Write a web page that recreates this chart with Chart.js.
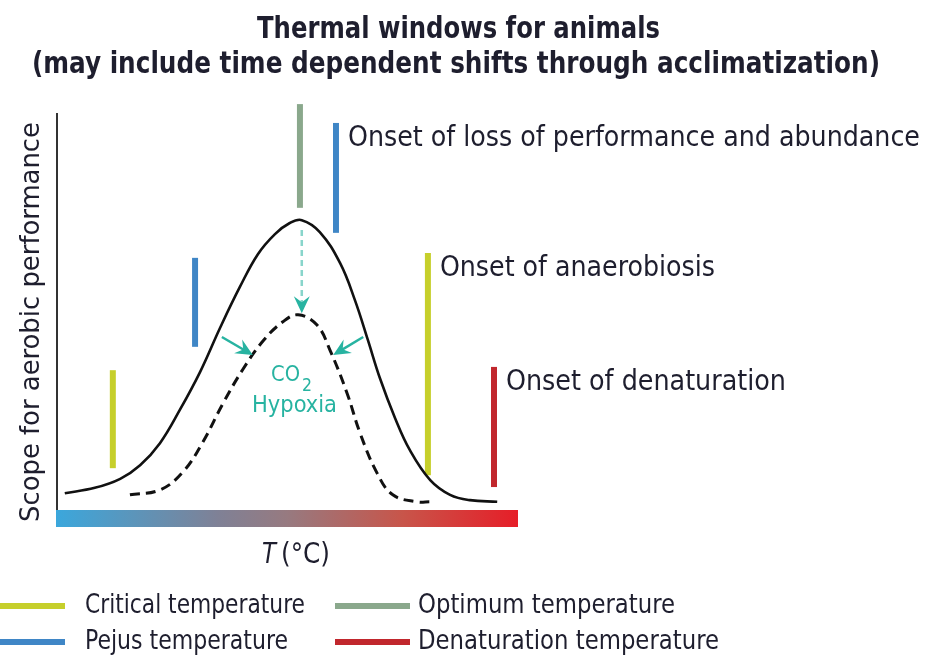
<!DOCTYPE html>
<html>
<head>
<meta charset="utf-8">
<title>Thermal windows for animals</title>
<script src="https://cdn.jsdelivr.net/npm/chart.js@4.4.1/dist/chart.umd.min.js"></script>
<style>
  html, body { margin: 0; padding: 0; background: #fff; }
  canvas { display: block; }
</style>
</head>
<body>
<canvas id="thermal" width="929" height="658"></canvas>
<script>
// --- data (temperature and scope on an arbitrary 0-100 scale) ---
const normalTemp  = [1.9, 8.4, 13.9, 18.2, 22.5, 26.8, 31.2, 35.5, 39.8, 43.7, 47.4, 50.6, 53.2,
                     57.1, 61.5, 64.7, 67.5, 70.1, 73.4, 76.6, 81.0, 85.3, 89.6, 95.5];
const normalScope = [4.1, 5.4, 7.6, 10.9, 16.3, 24.4, 33.7, 44.4, 54.4, 62.4, 67.3, 70.0, 70.7,
                     67.8, 60.2, 51.2, 41.5, 32.2, 22.4, 14.6, 7.3, 3.7, 2.4, 2.0];

const stressTemp  = [16.0, 22.5, 27.5, 31.8, 36.1, 40.5, 44.8, 49.1, 52.4, 56.5, 59.3, 63.0, 65.8, 69.5, 72.9, 78.1, 81.0];
const stressScope = [3.7, 4.9, 9.3, 16.6, 25.9, 34.4, 41.2, 45.9, 47.6, 45.1, 39.0, 28.5, 18.8, 9.0, 3.7, 2.0, 2.0];

// threshold markers: kind index, temperature, bottom and top of the bar
const markerKind = [0, 0, 1, 1, 2, 3];
const markerTemp = [12.3, 80.5, 30.1, 60.6, 52.8, 94.8];
const markerLow  = [10.2, 8.5, 39.8, 67.6, 73.7, 5.6];
const markerHigh = [34.1, 62.7, 61.5, 94.4, 99.0, 34.9];

const kindNames = ['Critical temperature', 'Pejus temperature', 'Optimum temperature', 'Denaturation temperature'];

// onset labels attached to a marker (index into the marker arrays)
const onsetMarker = [3, 1, 5];
const onsetText   = ['Onset of loss of performance and abundance', 'Onset of anaerobiosis', 'Onset of denaturation'];

// CO2 / hypoxia arrows: [x0, y0, x1, y1]
const shiftArrows = [
    [53.2, 68.3, 53.2, 48.0],
    [35.9, 42.2, 42.6, 37.8],
    [66.5, 42.2, 60.0, 37.8]
];

// --- styles ---
const FONT = "'Liberation Sans Narrow', 'DejaVu Sans Condensed', 'Roboto', sans-serif";
const TEXT_COLOR = '#1e1e2e';
const TEAL = '#27b3a1';
const kindColors = ['#c6cf2b', '#3f86c6', '#8aa88c', '#c1272d'];

// draw a text squeezed/stretched to a given width
function fitText(ctx, text, x, y, width, size, weight) {
    ctx.font = weight + ' ' + size + 'px ' + FONT;
    const w = ctx.measureText(text).width;
    ctx.save();
    ctx.translate(x, y);
    ctx.scale(width / w, 1);
    ctx.textAlign = 'left';
    ctx.textBaseline = 'alphabetic';
    ctx.fillText(text, 0, 0);
    ctx.restore();
}

function arrowHead(ctx, x0, y0, x1, y1, len, half) {
    const a = Math.atan2(y1 - y0, x1 - x0);
    const c = Math.cos(a), s = Math.sin(a);
    const bx = x1 - c * len, by = y1 - s * len;
    const nx = x1 - c * len * 0.65, ny = y1 - s * len * 0.65;
    ctx.beginPath();
    ctx.moveTo(x1, y1);
    ctx.lineTo(bx - s * half, by + c * half);
    ctx.lineTo(nx, ny);
    ctx.lineTo(bx + s * half, by - c * half);
    ctx.closePath();
    ctx.fill();
}

const decorations = {
    id: 'decorations',
    beforeDatasetsDraw(chart) {
        const { ctx, chartArea } = chart;
        ctx.save();
        // temperature gradient bar
        const g = ctx.createLinearGradient(chartArea.left, 0, chartArea.right, 0);
        g.addColorStop(0, '#3ba7dc');
        g.addColorStop(0.35, '#7f8196');
        g.addColorStop(0.5, '#977a80');
        g.addColorStop(0.75, '#c8554a');
        g.addColorStop(1, '#e61e28');
        ctx.fillStyle = g;
        ctx.fillRect(chartArea.left, chartArea.bottom, chartArea.right - chartArea.left, 17);
        // y axis line
        ctx.strokeStyle = '#333';
        ctx.lineWidth = 2;
        ctx.beginPath();
        ctx.moveTo(chartArea.left + 1, chartArea.top + 13);
        ctx.lineTo(chartArea.left + 1, chartArea.bottom);
        ctx.stroke();
        ctx.restore();
    },
    afterDatasetsDraw(chart) {
        const { ctx } = chart;
        const xs = chart.scales.x, ys = chart.scales.y;
        ctx.save();

        // shift arrows
        ctx.fillStyle = TEAL;
        shiftArrows.forEach((a, i) => {
            const x0 = xs.getPixelForValue(a[0]), y0 = ys.getPixelForValue(a[1]);
            const x1 = xs.getPixelForValue(a[2]), y1 = ys.getPixelForValue(a[3]);
            ctx.lineWidth = 2.5;
            if (i === 0) {
                ctx.strokeStyle = 'rgba(39, 179, 161, 0.55)';
                ctx.setLineDash([6, 4]);
            } else {
                ctx.strokeStyle = TEAL;
                ctx.setLineDash([]);
            }
            const ang = Math.atan2(y1 - y0, x1 - x0);
            ctx.beginPath();
            ctx.moveTo(x0, y0);
            ctx.lineTo(x1 - Math.cos(ang) * 8, y1 - Math.sin(ang) * 8);
            ctx.stroke();
            ctx.setLineDash([]);
            arrowHead(ctx, x0, y0, x1, y1, 17, 8);
        });

        // CO2 / Hypoxia
        ctx.fillStyle = TEAL;
        fitText(ctx, 'CO', 271, 381, 29, 22, 'normal');
        fitText(ctx, '2', 302, 391, 10, 18, 'normal');
        fitText(ctx, 'Hypoxia', 252, 412, 85, 23, 'normal');

        // onset labels
        ctx.fillStyle = TEXT_COLOR;
        const onsetWidth = [572, 275, 280];
        onsetText.forEach((t, i) => {
            const m = onsetMarker[i];
            const x = xs.getPixelForValue(markerTemp[m]) + 12;
            const y = ys.getPixelForValue(markerHigh[m]) + 23;
            fitText(ctx, t, x, y, onsetWidth[i], 28, 'normal');
        });

        // title
        fitText(ctx, 'Thermal windows for animals', 257, 38, 403, 31, 'bold');
        fitText(ctx, '(may include time dependent shifts through acclimatization)', 32, 73, 848, 31, 'bold');

        // y axis title
        ctx.save();
        ctx.translate(39, 522);
        ctx.rotate(-Math.PI / 2);
        fitText(ctx, 'Scope for aerobic performance', 0, 0, 400, 27, 'normal');
        ctx.restore();

        // x axis title: italic T then (°C)
        fitText(ctx, 'T', 262, 563, 14, 28, 'italic');
        fitText(ctx, '(°C)', 281, 563, 49, 28, 'normal');

        // legend
        const cols = [[0, 65, 85], [335, 410, 418]];
        const rows = [606, 642];
        const legendWidth = [220, 203, 257, 301];
        kindNames.forEach((name, k) => {
            const c = cols[Math.floor(k / 2)], ry = rows[k % 2];
            ctx.strokeStyle = kindColors[k];
            ctx.lineWidth = 6;
            ctx.beginPath();
            ctx.moveTo(c[0], ry);
            ctx.lineTo(c[1], ry);
            ctx.stroke();
            ctx.fillStyle = TEXT_COLOR;
            fitText(ctx, name, c[2], ry + 7, legendWidth[k], 27, 'normal');
        });
        ctx.restore();
    }
};

const datasets = [
    {
        label: 'Normal scope',
        data: normalTemp.map((t, i) => ({ x: t, y: normalScope[i] })),
        borderColor: '#111',
        borderWidth: 2.6,
        tension: 0.4,
        pointRadius: 0
    },
    {
        label: 'Under CO2 / hypoxia',
        data: stressTemp.map((t, i) => ({ x: t, y: stressScope[i] })),
        borderColor: '#111',
        borderWidth: 3,
        borderDash: [10, 6],
        tension: 0.4,
        pointRadius: 0
    }
];

markerTemp.forEach((t, i) => {
    datasets.push({
        label: kindNames[markerKind[i]],
        data: [{ x: t, y: markerLow[i] }, { x: t, y: markerHigh[i] }],
        borderColor: kindColors[markerKind[i]],
        borderWidth: 6,
        borderCapStyle: 'butt',
        pointRadius: 0
    });
});

new Chart(document.getElementById('thermal'), {
    type: 'scatter',
    data: { datasets: datasets },
    options: {
        responsive: false,
        animation: false,
        events: [],
        showLine: true,
        layout: { padding: { left: 56, right: 411, top: 100, bottom: 148 } },
        scales: {
            x: { type: 'linear', min: 0, max: 100, display: false },
            y: { min: 0, max: 100, display: false }
        },
        plugins: {
            legend: { display: false },
            tooltip: { enabled: false },
            title: { display: false }
        }
    },
    plugins: [decorations]
});
</script>
</body>
</html>
